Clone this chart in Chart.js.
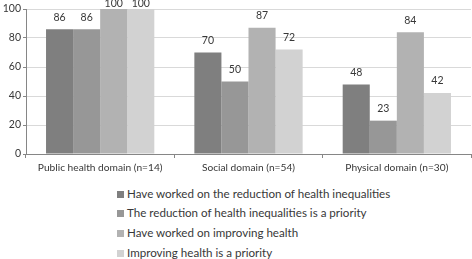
<!DOCTYPE html>
<html>
<head>
<meta charset="utf-8">
<script src="https://cdn.jsdelivr.net/npm/chart.js@4/dist/chart.umd.min.js"></script>
<style>
  body { margin: 0; background: #fff; }
  #wrap { position: relative; width: 472px; height: 259px; overflow: hidden; }
  #legend { position: absolute; left: 117px; top: 183.5px; font-family: Lato, sans-serif; font-size: 11.6px; color: #383838; }
  #legend div { height: 19.8px; line-height: 19.8px; white-space: nowrap; }
  #legend span { display: inline-block; width: 7px; height: 7px; margin-right: 3px; vertical-align: 0px; }
</style>
</head>
<body>
<div id="wrap">
  <canvas id="barChart" width="472" height="182"></canvas>
  <div id="legend"></div>
</div>
<script>
// chart data
var categories = ["Public health domain (n=14)", "Social domain (n=54)", "Physical domain (n=30)"];
var seriesNames = [
  "Have worked on the reduction of health inequalities",
  "The reduction of health inequalities is a priority",
  "Have worked on improving health",
  "Improving health is a priority"
];
var workedReduction = [86, 70, 48];
var priorityReduction = [86, 50, 23];
var workedImproving = [100, 87, 84];
var priorityImproving = [100, 72, 42];
var yTicks = [0, 20, 40, 60, 80, 100];

var colors = ['#7f7f7f', '#979797', '#b2b2b2', '#d2d2d2'];
var allValues = [workedReduction, priorityReduction, workedImproving, priorityImproving];

var fontFamily = 'Lato, sans-serif';
var textColor = '#383838';

// draws the value above each bar
var valueLabels = {
  id: 'valueLabels',
  afterDatasetsDraw: function(chart) {
    var ctx = chart.ctx;
    ctx.save();
    ctx.font = '10.5px ' + fontFamily;
    ctx.fillStyle = textColor;
    ctx.textAlign = 'center';
    ctx.textBaseline = 'middle';
    chart.data.datasets.forEach(function(ds, i) {
      chart.getDatasetMeta(i).data.forEach(function(bar, j) {
        ctx.fillText(ds.data[j], bar.x, Math.max(bar.y - 12, 4));
      });
    });
    ctx.restore();
  }
};

var ctx = document.getElementById('barChart').getContext('2d');
var barChart = new Chart(ctx, {
  type: 'bar',
  data: {
    labels: categories,
    datasets: seriesNames.map(function(name, i) {
      return {
        label: name,
        data: allValues[i],
        backgroundColor: colors[i],
        borderWidth: 0,
        categoryPercentage: 0.73,
        barPercentage: 1
      };
    })
  },
  options: {
    responsive: false,
    animation: false,
    layout: { padding: { top: 9, right: 1, left: 0, bottom: 0 } },
    plugins: {
      legend: { display: false },
      tooltip: { enabled: false }
    },
    scales: {
      x: {
        grid: {
          drawOnChartArea: false,
          tickLength: 4,
          tickColor: '#868686'
        },
        border: { color: '#868686' },
        ticks: {
          padding: 4,
          color: textColor,
          font: { family: fontFamily, size: 10.2 },
          maxRotation: 0
        },
        afterFit: function(scale) { scale.height = 28; }
      },
      y: {
        min: 0,
        max: 100,
        afterBuildTicks: function(scale) {
          scale.ticks = yTicks.map(function(v) { return { value: v }; });
        },
        grid: {
          color: '#d9d9d9',
          tickLength: 3,
          tickColor: '#868686'
        },
        border: { color: '#868686' },
        ticks: {
          padding: 2,
          color: textColor,
          font: { family: fontFamily, size: 10.5 }
        },
        afterFit: function(scale) { scale.width = 26; }
      }
    }
  },
  plugins: [valueLabels]
});

// legend as a single column below the chart
var legendEl = document.getElementById('legend');
barChart.data.datasets.forEach(function(ds) {
  var row = document.createElement('div');
  var box = document.createElement('span');
  box.style.background = ds.backgroundColor;
  row.appendChild(box);
  row.appendChild(document.createTextNode(ds.label));
  legendEl.appendChild(row);
});
</script>
</body>
</html>
